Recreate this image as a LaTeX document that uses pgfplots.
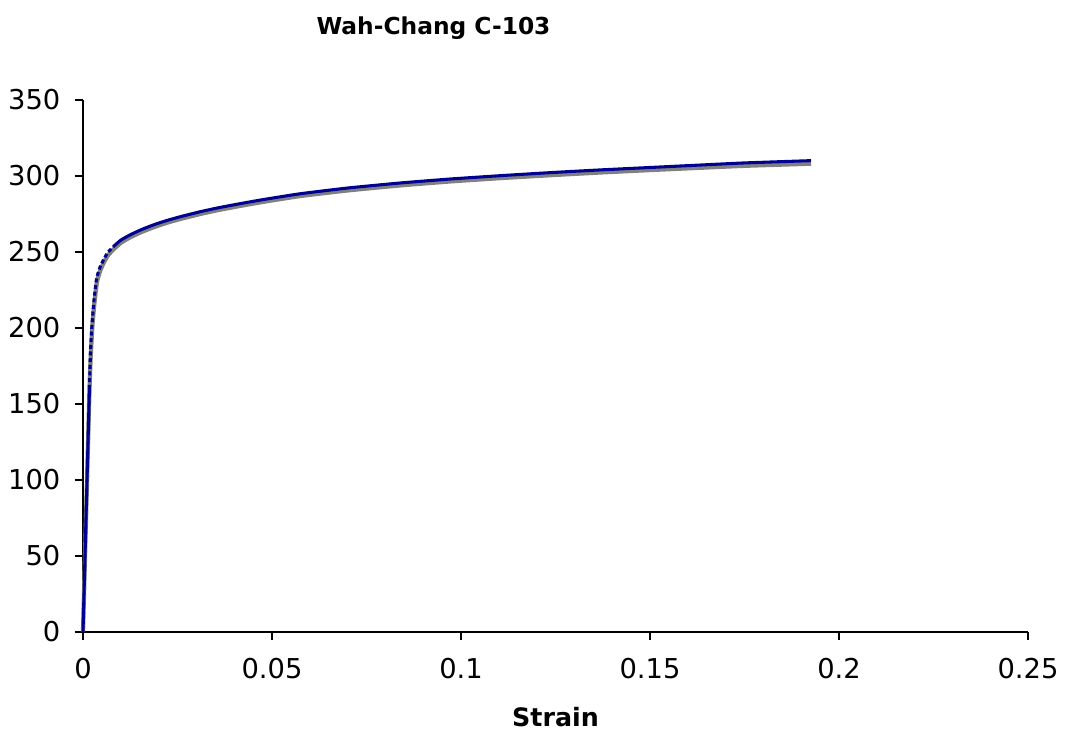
\documentclass[border=0pt]{standalone}
\usepackage{pgfplots}
\pgfplotsset{compat=1.18}
\usepackage{fontspec}
\setmainfont{DejaVu Sans}
\definecolor{expgray}{RGB}{128,128,128}
\definecolor{modblue}{RGB}{0,0,145}
\begin{document}
\begin{tikzpicture}[x=1pt,y=1pt]
\path[use as bounding box] (0,0) rectangle (800.25,552);
\begin{axis}[
  at={(62.25pt,78pt)}, anchor=origin,
  scale only axis, width=708.75pt, height=399pt,
  xmin=0, xmax=0.25, ymin=0, ymax=350,
  xtick={0,0.05,...,0.25}, ytick={0,50,...,350},
  axis x line=bottom, axis y line=left,
  axis line style={-, black, line width=0.9pt},
  tick style={black, line width=0.9pt},
  tick align=outside, major tick length=6pt,
  /pgf/number format/assume math mode=true,
  xticklabel style={/pgf/number format/fixed, /pgf/number format/precision=2, font=\fontsize{20.5}{22}\selectfont, anchor=base, yshift=-28.5pt},
  yticklabel style={font=\fontsize{20.5}{22}\selectfont, xshift=-7.5pt},
  title={\textbf{Wah-Chang C-103}},
  title style={font=\fontsize{17.5}{20}\selectfont, at={(axis description cs:0.5,1)}, anchor=base, yshift=43pt, xshift=-91.5pt},
  xlabel={\textbf{Strain}},
  xlabel style={font=\fontsize{19}{21}\selectfont, at={(axis description cs:0.5,0)}, anchor=base, yshift=-70.5pt},
  clip=false,
]
% experimental (gray)
\addplot[expgray, line width=3.2pt, line join=round, smooth, tension=0.3] coordinates {
(0,0) (0.0017,158) (0.0021,184) (0.0025,202) (0.0030,216) (0.0037,230.5) (0.0046,238) (0.0055,243) (0.0066,247.8) (0.0081,251.8)
(0.0101,256.2) (0.0125,259.7) (0.0156,263.3) (0.0187,266.3) (0.022,269.1) (0.0257,271.7) (0.031,275.0) (0.0362,277.8)
(0.042,280.5) (0.0477,283.0) (0.0574,286.8) (0.07,290.5) (0.0839,293.8) (0.097,296.4) (0.1103,298.6) (0.1235,300.5)
(0.1368,302.3) (0.15,303.9) (0.1632,305.4) (0.175,306.7) (0.1926,308.1)
};
% model (blue) elastic
\addplot[modblue, line width=2.3pt] coordinates {(0,0) (0.0017,160)};
% model (blue) dashed transition
\addplot[modblue, line width=2.3pt, dash pattern=on 3pt off 2pt, smooth, tension=0.3] coordinates {
(0.0017,160) (0.0020,185) (0.0024,203) (0.0029,218) (0.0036,232.7) (0.0045,240) (0.0054,244.7) (0.0065,249.5) (0.0080,253.5)
};
% model (blue) plastic
\addplot[modblue, line width=2.3pt, line join=round, smooth, tension=0.3] coordinates {
(0.0080,253.5) (0.0100,257.8) (0.0124,261.2) (0.0155,264.8) (0.0186,267.8) (0.022,270.6) (0.0257,273.2) (0.031,276.5)
(0.0362,279.3) (0.042,282.0) (0.0477,284.5) (0.0574,288.3) (0.07,292.1) (0.0839,295.4) (0.097,298) (0.1103,300.2)
(0.1235,302.2) (0.1368,304) (0.15,305.6) (0.1632,307.2) (0.175,308.6) (0.1926,310.1)
};
\end{axis}
\end{tikzpicture}
\end{document}
